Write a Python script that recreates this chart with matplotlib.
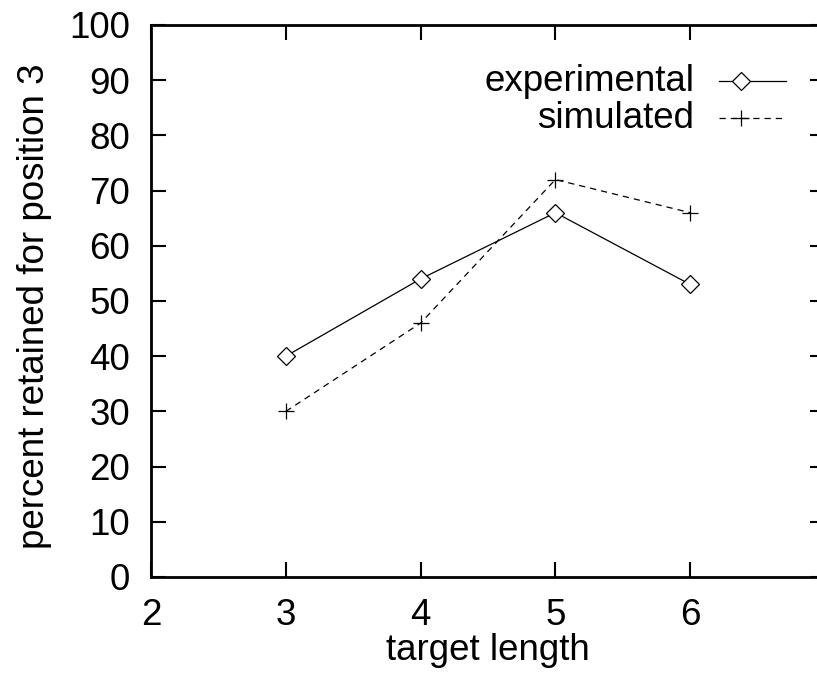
import matplotlib
matplotlib.use("Agg")
import matplotlib.pyplot as plt
from matplotlib.lines import Line2D

target_length = [3, 4, 5, 6]
experimental = [40, 54, 66, 53]
simulated = [30, 46, 72, 66]
x_ticks = [2, 3, 4, 5, 6]
y_ticks = [0, 10, 20, 30, 40, 50, 60, 70, 80, 90, 100]
labels = ["experimental", "simulated"]

plt.rcParams['font.family'] = ['Liberation Sans', 'DejaVu Sans']
FS = 26.5
W, H = 817, 677
fig = plt.figure(figsize=(W / 100, H / 100), dpi=100)
left, right, bottom, top = 151, 825, 577, 25
ax = fig.add_axes([left / W, 1 - bottom / H, (right - left) / W, (bottom - top) / H])

ax.plot(target_length, experimental, color='black', lw=0.9, marker='D', ms=9,
        mfc='white', mec='black', mew=0.9)
ax.plot(target_length, simulated, color='black', lw=0.9, ls=(0, (5, 4)), marker='+',
        ms=12, mew=0.9)

ax.set_xlim(2, 7)
ax.set_ylim(0, 100)
ax.set_xticks(x_ticks)
ax.set_yticks(y_ticks)
ax.tick_params(direction='in', length=11, width=1.5, labelsize=FS, top=True, right=True)
ax.tick_params(axis='y', pad=15)
ax.tick_params(axis='x', pad=15)
for s in ax.spines.values():
    s.set_linewidth(2)
ax.set_xlabel("target length", fontsize=FS, labelpad=0)
ax.set_ylabel("percent retained for position 3", fontsize=FS)
ax.yaxis.set_label_coords(-0.147, 0.49)

# legend (gnuplot style)
for lab, yv, style in [(labels[0], 89.8, dict(ls='-', marker='D', ms=9, mfc='white')),
                       (labels[1], 83.1, dict(ls=(0, (5, 4)), marker='+', ms=12))]:
    ax.text(6.03, yv, lab, fontsize=FS, ha='right', va='center')
    ax.add_line(Line2D([6.21, 6.71], [yv, yv], color='black', lw=0.9, ls=style['ls']))
    ax.add_line(Line2D([6.38], [yv], color='black', marker=style['marker'], ms=style['ms'],
                       mfc=style.get('mfc', 'black'), mec='black', mew=0.9, ls='none'))

fig.savefig("out.png", dpi=100)
